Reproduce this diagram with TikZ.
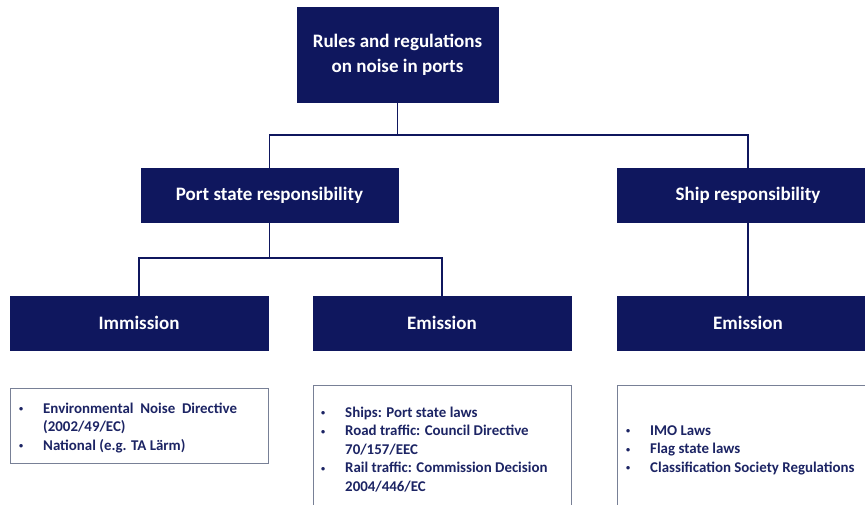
\documentclass[tikz,border=0pt]{standalone}
\usepackage{fontspec}
\setmainfont{Carlito}
\definecolor{navy}{RGB}{15,23,94}
\definecolor{navytext}{RGB}{28,36,100}
\definecolor{frame}{RGB}{120,128,150}
\newcommand{\mybul}{\raisebox{1.5pt}{\scalebox{0.55}{\textbullet}}}
\tikzset{
  box/.style={fill=navy, draw=navy, text=white, font=\bfseries\fontsize{19}{24}\selectfont, align=center, inner sep=0pt},
  link/.style={draw=navy, line width=1.8pt},
  listbox/.style={draw=frame, line width=0.9pt},
  listtext/.style={anchor=base west, inner sep=0pt, text=navytext, font=\bfseries\fontsize{14.9}{18.5}\selectfont}
}
\begin{document}
\begin{tikzpicture}[x=1pt,y=-1pt]
\useasboundingbox (0,0) rectangle (865,504);
\clip (0,0) rectangle (865,504);
\fill[white] (0,0) rectangle (865,504);
% boxes
\node[box, minimum width=201pt, minimum height=95pt, font=\bfseries\fontsize{19}{25}\selectfont] (top) at (397.5,54.5) {Rules and regulations\\on noise in ports};
\node[box, minimum width=257pt, minimum height=54pt] (ps) at (269.5,195) {Port state responsibility};
\node[box, minimum width=262pt, minimum height=54pt] (ship) at (748,195) {Ship responsibility};
\node[box, minimum width=258pt, minimum height=54pt] (imm) at (139,323) {Immission};
\node[box, minimum width=258pt, minimum height=54pt] (em) at (442,323) {Emission};
\node[box, minimum width=262pt, minimum height=54pt] (sem) at (748,323) {Emission};
% connectors
\coordinate (j1) at (397.5,135);
\coordinate (j2) at (269.5,258);
\draw[link] (top.south) -- (j1) -| (ps.north);
\draw[link] (j1) -| (ship.north);
\draw[link] (ps.south) -- (j2) -| (imm.north);
\draw[link] (j2) -| (em.north);
\draw[link] (ship.south) -- (sem.north);
% list boxes
\draw[listbox] (10,388) rectangle (268,463);
\draw[listbox] (313,385) rectangle (571,515);
\draw[listbox] (617,385) rectangle (880,515);
\node[listtext] (l1) at (19,413) {\begin{tabular}[t]{@{}p{24pt}@{}l@{}}
\mybul & Environmental\ \ Noise\ \ Directive\\
 & (2002/49/EC)\\
\mybul & National (e.g. TA Lärm)
\end{tabular}};
\node[listtext] (l2) at (321,417) {\begin{tabular}[t]{@{}p{24pt}@{}l@{}}
\mybul & Ships: Port state laws\\
\mybul & Road traffic: Council Directive\\
 & 70/157/EEC\\
\mybul & Rail traffic: Commission Decision\\
 & 2004/446/EC
\end{tabular}};
\node[listtext] (l3) at (626,435) {\begin{tabular}[t]{@{}p{24pt}@{}l@{}}
\mybul & IMO Laws\\
\mybul & Flag state laws\\
\mybul & Classification Society Regulations
\end{tabular}};
\end{tikzpicture}
\end{document}
